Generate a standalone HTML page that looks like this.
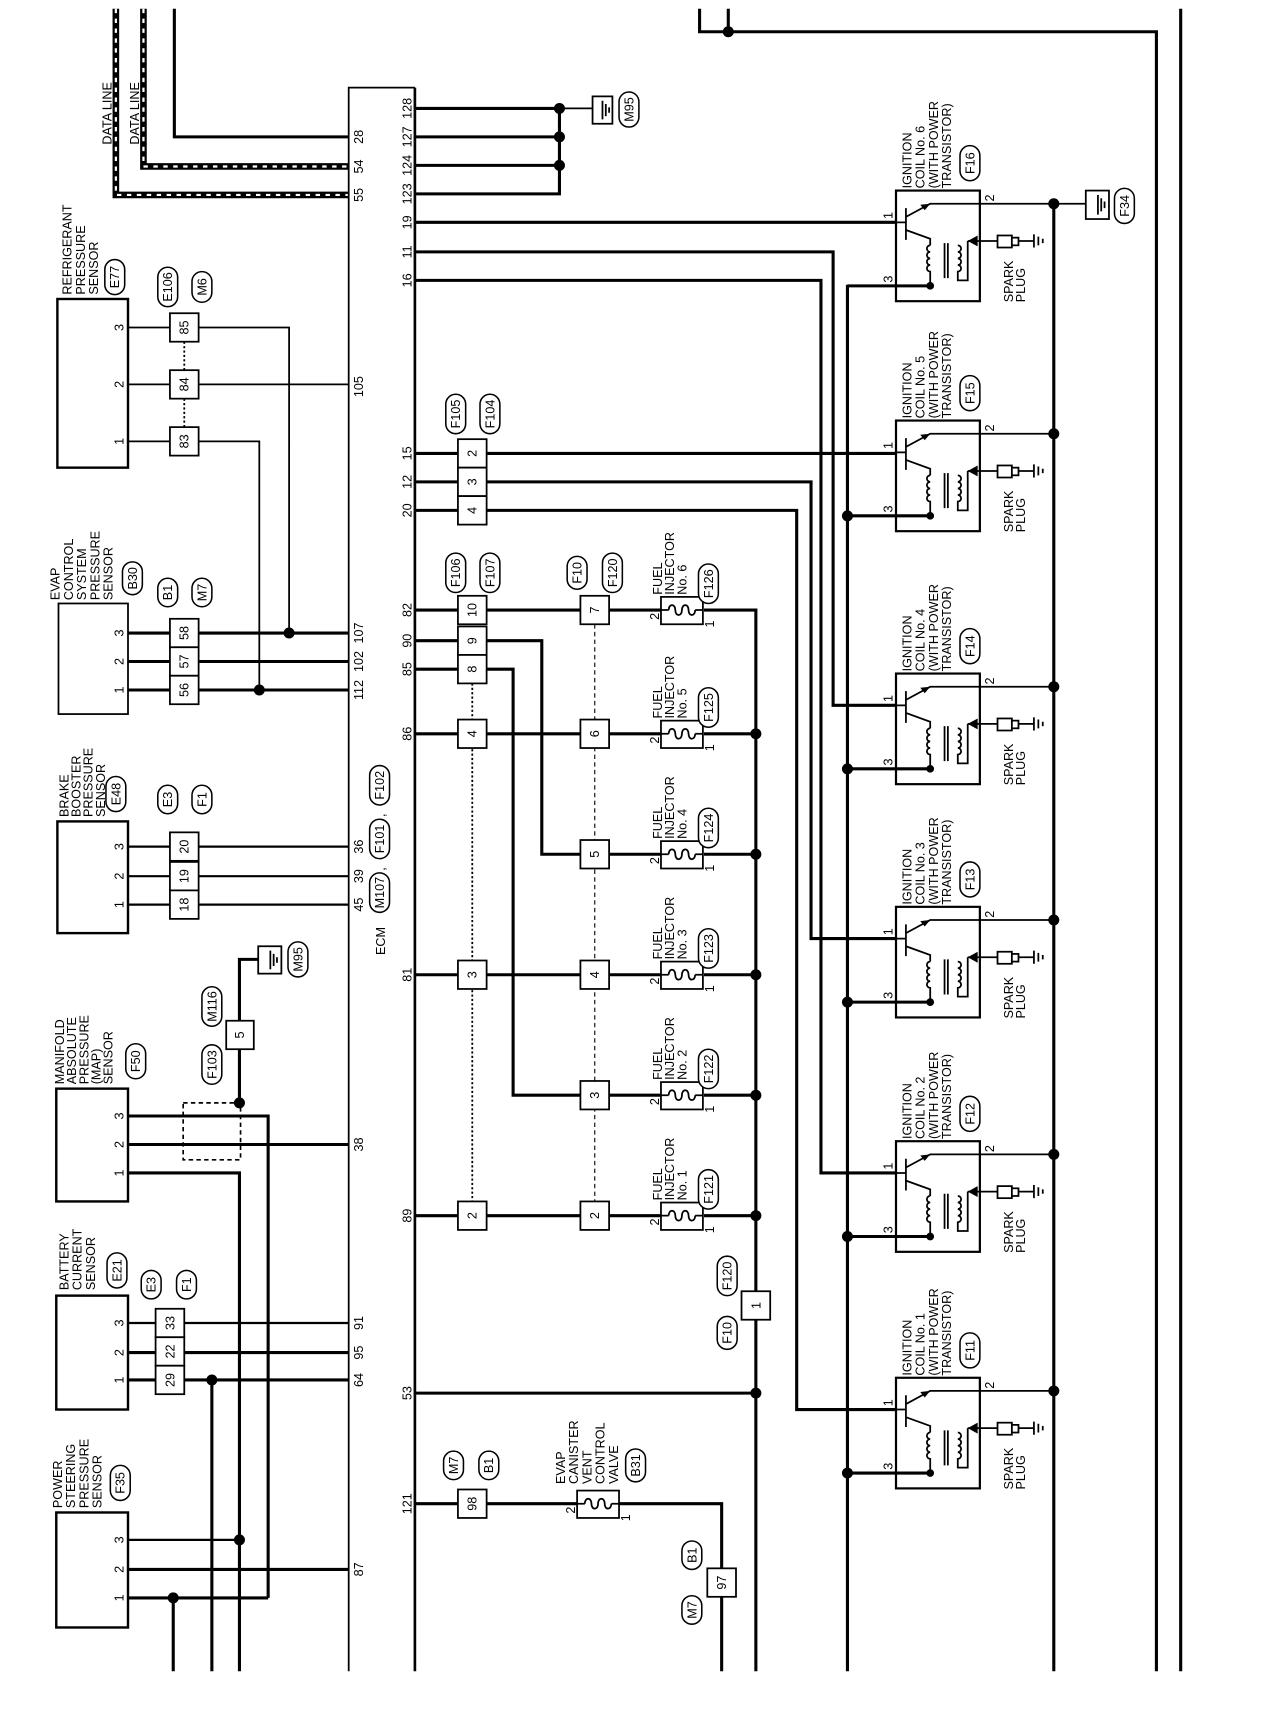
<!DOCTYPE html>
<html><head><meta charset="utf-8"><style>
html,body{margin:0;padding:0;background:#fff;}
svg{display:block;}
text{font-family:"Liberation Sans",sans-serif;font-size:11.5px;fill:#000;}
.t{fill:none;stroke:#000;stroke-width:1.6;}
.k{fill:none;stroke:#000;stroke-width:2.8;}
.b{fill:#fff;stroke:#000;stroke-width:1.6;}
.o{fill:#fff;stroke:#000;stroke-width:1.4;}
</style></head><body>
<svg width="1280" height="1714" viewBox="0 0 1160 1565" preserveAspectRatio="none" xmlns="http://www.w3.org/2000/svg">
<defs>
<g id="coil">
<rect x="812" y="0" width="76" height="101" class="b" style="stroke-width:2"/>
<path class="t" d="M812 29H821 M821 16V45 M821 24L843 12H888 M821 36L843 44V50"/>
<path d="M843 12l-9 1l4 5z" fill="#000"/>
<path class="t" d="M843 50a3 3 0 0 0 0 6a3 3 0 0 0 0 6a3 3 0 0 0 0 6a3 3 0 0 0 0 6V87 M856 48V80 M859 48V80 M868 50a3 3 0 0 1 0 6a3 3 0 0 1 0 6a3 3 0 0 1 0 6a3 3 0 0 1 0 6V82H877V46"/>
<path class="k" d="M768 87H843"/>
<circle cx="843" cy="87" r="3.5"/>
<path class="t" d="M877 46H904"/>
<path d="M877 46l9 -5v10z" fill="#000"/>
<rect x="904" y="41" width="13" height="11" class="b"/>
<rect x="917" y="43" width="6" height="7" class="b"/>
<path class="t" d="M923 46H937 M937 40V52 M941 42V50 M945 44V48"/>
<path class="t" d="M888 12H955"/>
<text transform="translate(809,26) rotate(-90)">1</text>
<text transform="translate(809,84) rotate(-90)">3</text>
<text transform="translate(901,10) rotate(-90)">2</text>
<text transform="translate(918,102) rotate(-90)">SPARK</text>
<text transform="translate(929,102) rotate(-90)">PLUG</text>
</g>
</defs>

<path class="k" d="M158 8V125H316"/>
<path d="M130 8V152H316 M105 8V178H316" fill="none" stroke="#000" stroke-width="6"/>
<path d="M130 8V152H316 M105 8V178H316" fill="none" stroke="#fff" stroke-width="2" stroke-dasharray="4 5"/>
<text transform="translate(101,132) rotate(-90)">DATA LINE</text>
<text transform="translate(126,132) rotate(-90)">DATA LINE</text>

<path class="t" d="M316 1526V80H376"/>
<path class="k" d="M376 80V1526" style="stroke-width:2.4"/>
<g text-anchor="middle">
<text transform="translate(329,125) rotate(-90)">28</text>
<text transform="translate(329,152) rotate(-90)">54</text>
<text transform="translate(329,178) rotate(-90)">55</text>
<text transform="translate(329,353) rotate(-90)">105</text>
<text transform="translate(329,578) rotate(-90)">107</text>
<text transform="translate(329,604) rotate(-90)">102</text>
<text transform="translate(329,630) rotate(-90)">112</text>
<text transform="translate(329,773) rotate(-90)">36</text>
<text transform="translate(329,800) rotate(-90)">39</text>
<text transform="translate(329,826) rotate(-90)">45</text>
<text transform="translate(329,1045) rotate(-90)">38</text>
<text transform="translate(329,1208) rotate(-90)">91</text>
<text transform="translate(329,1235) rotate(-90)">95</text>
<text transform="translate(329,1260) rotate(-90)">64</text>
<text transform="translate(329,1433) rotate(-90)">87</text>
<text transform="translate(373,99) rotate(-90)">128</text>
<text transform="translate(373,125) rotate(-90)">127</text>
<text transform="translate(373,151) rotate(-90)">124</text>
<text transform="translate(373,177) rotate(-90)">123</text>
<text transform="translate(373,203) rotate(-90)">19</text>
<text transform="translate(373,230) rotate(-90)">11</text>
<text transform="translate(373,256) rotate(-90)">16</text>
<text transform="translate(373,414) rotate(-90)">15</text>
<text transform="translate(373,440) rotate(-90)">12</text>
<text transform="translate(373,466) rotate(-90)">20</text>
<text transform="translate(373,557) rotate(-90)">82</text>
<text transform="translate(373,585) rotate(-90)">90</text>
<text transform="translate(373,611) rotate(-90)">85</text>
<text transform="translate(373,670) rotate(-90)">86</text>
<text transform="translate(373,890) rotate(-90)">81</text>
<text transform="translate(373,1110) rotate(-90)">89</text>
<text transform="translate(373,1272) rotate(-90)">53</text>
<text transform="translate(373,1373) rotate(-90)">121</text>
</g>
<text transform="translate(349,872) rotate(-90)">ECM</text>
<rect x="335" y="797" width="18" height="36" rx="9" class="o"/><text transform="translate(348,815) rotate(-90)" text-anchor="middle">M107</text>
<text transform="translate(349,795) rotate(-90)">,</text>
<rect x="335" y="748" width="18" height="36" rx="9" class="o"/><text transform="translate(348,766) rotate(-90)" text-anchor="middle">F101</text>
<text transform="translate(349,746) rotate(-90)">,</text>
<rect x="335" y="699" width="18" height="36" rx="9" class="o"/><text transform="translate(348,717) rotate(-90)" text-anchor="middle">F102</text>

<rect x="52" y="273" width="64" height="154" class="b" style="stroke-width:2.2"/>
<text transform="translate(65,269) rotate(-90)">REFRIGERANT</text>
<text transform="translate(77,269) rotate(-90)">PRESSURE</text>
<text transform="translate(89,269) rotate(-90)">SENSOR</text>
<rect x="95" y="237" width="18" height="32" rx="9" class="o"/><text transform="translate(108,253) rotate(-90)" text-anchor="middle">E77</text>
<rect x="143" y="244" width="18" height="36" rx="9" class="o"/><text transform="translate(156,262) rotate(-90)" text-anchor="middle">E106</text>
<rect x="174" y="248" width="18" height="28" rx="9" class="o"/><text transform="translate(187,262) rotate(-90)" text-anchor="middle">M6</text>
<path class="t" d="M116 299H154 M180 299H262V578 M116 351H154 M180 351H316 M116 403H154 M180 403H235V630"/>
<path class="t" d="M167 312V338 M167 364V390" stroke-dasharray="2 2"/>
<g text-anchor="middle">
<text transform="translate(112,299) rotate(-90)">3</text><text transform="translate(112,351) rotate(-90)">2</text><text transform="translate(112,403) rotate(-90)">1</text>
</g>
<rect x="154" y="286" width="26" height="26" class="b"/><text transform="translate(171,299) rotate(-90)" text-anchor="middle">85</text>
<rect x="154" y="338" width="26" height="26" class="b"/><text transform="translate(171,351) rotate(-90)" text-anchor="middle">84</text>
<rect x="154" y="390" width="26" height="26" class="b"/><text transform="translate(171,403) rotate(-90)" text-anchor="middle">83</text>

<rect x="53" y="551" width="63" height="101" class="b"/>
<text transform="translate(54,548) rotate(-90)">EVAP</text>
<text transform="translate(66,548) rotate(-90)">CONTROL</text>
<text transform="translate(78,548) rotate(-90)">SYSTEM</text>
<text transform="translate(90,548) rotate(-90)">PRESSURE</text>
<text transform="translate(102,548) rotate(-90)">SENSOR</text>
<rect x="111" y="513" width="18" height="30" rx="9" class="o"/><text transform="translate(124,528) rotate(-90)" text-anchor="middle">B30</text>
<rect x="143" y="528" width="18" height="26" rx="9" class="o"/><text transform="translate(156,541) rotate(-90)" text-anchor="middle">B1</text>
<rect x="174" y="528" width="18" height="26" rx="9" class="o"/><text transform="translate(187,541) rotate(-90)" text-anchor="middle">M7</text>
<path class="k" d="M116 578H316 M116 604H316 M116 630H316"/>
<circle cx="262" cy="578" r="5"/><circle cx="235" cy="630" r="5"/>
<g text-anchor="middle"><text transform="translate(112,578) rotate(-90)">3</text><text transform="translate(112,604) rotate(-90)">2</text><text transform="translate(112,630) rotate(-90)">1</text></g>
<rect x="154" y="565" width="26" height="26" class="b"/><text transform="translate(171,578) rotate(-90)" text-anchor="middle">58</text>
<rect x="154" y="591" width="26" height="26" class="b"/><text transform="translate(171,604) rotate(-90)" text-anchor="middle">57</text>
<rect x="154" y="617" width="26" height="26" class="b"/><text transform="translate(171,630) rotate(-90)" text-anchor="middle">56</text>

<rect x="52" y="750" width="64" height="102" class="b" style="stroke-width:2.2"/>
<text transform="translate(62,746) rotate(-90)">BRAKE</text>
<text transform="translate(73,746) rotate(-90)">BOOSTER</text>
<text transform="translate(84,746) rotate(-90)">PRESSURE</text>
<text transform="translate(95,746) rotate(-90)">SENSOR</text>
<rect x="96" y="709" width="18" height="32" rx="9" class="o"/><text transform="translate(109,725) rotate(-90)" text-anchor="middle">E48</text>
<rect x="143" y="717" width="18" height="26" rx="9" class="o"/><text transform="translate(156,730) rotate(-90)" text-anchor="middle">E3</text>
<rect x="174" y="717" width="18" height="26" rx="9" class="o"/><text transform="translate(187,730) rotate(-90)" text-anchor="middle">F1</text>
<path class="t" d="M116 773H316 M116 800H316 M116 826H316" style="stroke-width:2"/>
<g text-anchor="middle"><text transform="translate(112,773) rotate(-90)">3</text><text transform="translate(112,800) rotate(-90)">2</text><text transform="translate(112,826) rotate(-90)">1</text></g>
<rect x="154" y="760" width="26" height="26" class="b"/><text transform="translate(171,773) rotate(-90)" text-anchor="middle">20</text>
<rect x="154" y="787" width="26" height="26" class="b"/><text transform="translate(171,800) rotate(-90)" text-anchor="middle">19</text>
<rect x="154" y="813" width="26" height="26" class="b"/><text transform="translate(171,826) rotate(-90)" text-anchor="middle">18</text>

<rect x="51" y="994" width="65" height="103" class="b" style="stroke-width:2.2"/>
<text transform="translate(58,990) rotate(-90)">MANIFOLD</text>
<text transform="translate(69,990) rotate(-90)">ABSOLUTE</text>
<text transform="translate(80,990) rotate(-90)">PRESSURE</text>
<text transform="translate(91,990) rotate(-90)">(MAP)</text>
<text transform="translate(102,990) rotate(-90)">SENSOR</text>
<rect x="114" y="953" width="18" height="32" rx="9" class="o"/><text transform="translate(127,969) rotate(-90)" text-anchor="middle">F50</text>
<rect x="183" y="954" width="18" height="36" rx="9" class="o"/><text transform="translate(196,972) rotate(-90)" text-anchor="middle">F103</text>
<rect x="183" y="901" width="18" height="36" rx="9" class="o"/><text transform="translate(196,919) rotate(-90)" text-anchor="middle">M116</text>
<rect x="261" y="860" width="18" height="32" rx="9" class="o"/><text transform="translate(274,876) rotate(-90)" text-anchor="middle">M95</text>
<rect x="166" y="1007" width="52" height="52" fill="none" stroke="#000" stroke-width="1.5" stroke-dasharray="4 3"/>
<path class="k" d="M116 1019H243V1459 M116 1045H316 M116 1071H217V1526 M217 1007V876H236"/>
<circle cx="217" cy="1007" r="5"/>
<rect x="205" y="932" width="25" height="26" class="b"/><text transform="translate(221,945) rotate(-90)" text-anchor="middle">5</text>
<rect x="234" y="864" width="21" height="25" class="b"/>
<path class="t" d="M245 868V885 M248 871V882 M251 874V879"/>
<g text-anchor="middle"><text transform="translate(112,1019) rotate(-90)">3</text><text transform="translate(112,1045) rotate(-90)">2</text><text transform="translate(112,1071) rotate(-90)">1</text></g>

<rect x="51" y="1183" width="65" height="104" class="b" style="stroke-width:2.2"/>
<text transform="translate(62,1178) rotate(-90)">BATTERY</text>
<text transform="translate(74,1178) rotate(-90)">CURRENT</text>
<text transform="translate(86,1178) rotate(-90)">SENSOR</text>
<rect x="97" y="1144" width="18" height="32" rx="9" class="o"/><text transform="translate(110,1160) rotate(-90)" text-anchor="middle">E21</text>
<rect x="128" y="1160" width="18" height="26" rx="9" class="o"/><text transform="translate(141,1173) rotate(-90)" text-anchor="middle">E3</text>
<rect x="160" y="1160" width="18" height="26" rx="9" class="o"/><text transform="translate(173,1173) rotate(-90)" text-anchor="middle">F1</text>
<path class="t" d="M116 1208H316" style="stroke-width:2"/>
<path class="k" d="M116 1235H316 M116 1260H316 M192 1260V1526"/>
<circle cx="192" cy="1260" r="5"/>
<g text-anchor="middle"><text transform="translate(112,1208) rotate(-90)">3</text><text transform="translate(112,1235) rotate(-90)">2</text><text transform="translate(112,1260) rotate(-90)">1</text></g>
<rect x="141" y="1195" width="26" height="26" class="b"/><text transform="translate(158,1208) rotate(-90)" text-anchor="middle">33</text>
<rect x="141" y="1221" width="26" height="26" class="b"/><text transform="translate(158,1234) rotate(-90)" text-anchor="middle">22</text>
<rect x="141" y="1247" width="26" height="26" class="b"/><text transform="translate(158,1260) rotate(-90)" text-anchor="middle">29</text>

<rect x="51" y="1381" width="65" height="105" class="b" style="stroke-width:2.2"/>
<text transform="translate(56,1377) rotate(-90)">POWER</text>
<text transform="translate(68,1377) rotate(-90)">STEERING</text>
<text transform="translate(80,1377) rotate(-90)">PRESSURE</text>
<text transform="translate(92,1377) rotate(-90)">SENSOR</text>
<rect x="100" y="1338" width="18" height="32" rx="9" class="o"/><text transform="translate(113,1354) rotate(-90)" text-anchor="middle">F35</text>
<path class="t" d="M116 1406H217" style="stroke-width:2"/>
<path class="k" d="M116 1433H316 M116 1459H243 M157 1459V1526"/>
<circle cx="217" cy="1406" r="5"/><circle cx="157" cy="1459" r="5"/>
<g text-anchor="middle"><text transform="translate(112,1406) rotate(-90)">3</text><text transform="translate(112,1433) rotate(-90)">2</text><text transform="translate(112,1459) rotate(-90)">1</text></g>

<path class="k" d="M376 99H507 M376 125H507 M376 151H507 M376 177H507V99"/>
<circle cx="507" cy="99" r="5"/><circle cx="507" cy="125" r="5"/><circle cx="507" cy="151" r="5"/>
<path class="t" d="M507 99H537"/>
<rect x="537" y="88" width="18" height="25" class="b"/>
<path class="t" d="M546 92V109 M549 95V106 M552 98V103"/>
<rect x="561" y="84" width="18" height="32" rx="9" class="o"/><text transform="translate(574,100) rotate(-90)" text-anchor="middle">M95</text>

<path class="k" d="M376 203H812 M376 230H755V644H812 M376 256H744V1071H812 M376 414H812 M376 440H735V857H812 M376 466H722V1287H812"/>
<rect x="415" y="401" width="26" height="26" class="b"/><text transform="translate(432,414) rotate(-90)" text-anchor="middle">2</text>
<rect x="415" y="427" width="26" height="26" class="b"/><text transform="translate(432,440) rotate(-90)" text-anchor="middle">3</text>
<rect x="415" y="453" width="26" height="26" class="b"/><text transform="translate(432,466) rotate(-90)" text-anchor="middle">4</text>
<rect x="404" y="360" width="18" height="36" rx="9" class="o"/><text transform="translate(417,378) rotate(-90)" text-anchor="middle">F105</text>
<rect x="435" y="360" width="18" height="36" rx="9" class="o"/><text transform="translate(448,378) rotate(-90)" text-anchor="middle">F104</text>

<path class="k" d="M768 260V1526 M955 186V1526"/>
<use href="#coil" transform="translate(0,174)"/>
<use href="#coil" transform="translate(0,384)"/>
<use href="#coil" transform="translate(0,615)"/>
<use href="#coil" transform="translate(0,828)"/>
<use href="#coil" transform="translate(0,1042)"/>
<use href="#coil" transform="translate(0,1258)"/>
<g>
<circle cx="768" cy="471" r="5"/><circle cx="768" cy="702" r="5"/><circle cx="768" cy="915" r="5"/><circle cx="768" cy="1129" r="5"/><circle cx="768" cy="1345" r="5"/>
<circle cx="955" cy="186" r="5"/><circle cx="955" cy="396" r="5"/><circle cx="955" cy="627" r="5"/><circle cx="955" cy="840" r="5"/><circle cx="955" cy="1054" r="5"/><circle cx="955" cy="1270" r="5"/>
</g>
<path class="t" d="M955 186H984"/>
<rect x="984" y="174" width="21" height="26" class="b"/>
<path class="t" d="M995 178V196 M998 181V193 M1001 184V190"/>
<rect x="1010" y="172" width="18" height="32" rx="9" class="o"/><text transform="translate(1023,188) rotate(-90)" text-anchor="middle">F34</text>

<text transform="translate(826,172) rotate(-90)">IGNITION</text><text transform="translate(838,172) rotate(-90)">COIL No. 6</text><text transform="translate(850,172) rotate(-90)">(WITH POWER</text><text transform="translate(862,172) rotate(-90)">TRANSISTOR)</text>
<rect x="870" y="133" width="18" height="32" rx="9" class="o"/><text transform="translate(883,149) rotate(-90)" text-anchor="middle">F16</text>
<text transform="translate(826,382) rotate(-90)">IGNITION</text><text transform="translate(838,382) rotate(-90)">COIL No. 5</text><text transform="translate(850,382) rotate(-90)">(WITH POWER</text><text transform="translate(862,382) rotate(-90)">TRANSISTOR)</text>
<rect x="870" y="343" width="18" height="32" rx="9" class="o"/><text transform="translate(883,359) rotate(-90)" text-anchor="middle">F15</text>
<text transform="translate(826,613) rotate(-90)">IGNITION</text><text transform="translate(838,613) rotate(-90)">COIL No. 4</text><text transform="translate(850,613) rotate(-90)">(WITH POWER</text><text transform="translate(862,613) rotate(-90)">TRANSISTOR)</text>
<rect x="870" y="574" width="18" height="32" rx="9" class="o"/><text transform="translate(883,590) rotate(-90)" text-anchor="middle">F14</text>
<text transform="translate(826,826) rotate(-90)">IGNITION</text><text transform="translate(838,826) rotate(-90)">COIL No. 3</text><text transform="translate(850,826) rotate(-90)">(WITH POWER</text><text transform="translate(862,826) rotate(-90)">TRANSISTOR)</text>
<rect x="870" y="787" width="18" height="32" rx="9" class="o"/><text transform="translate(883,803) rotate(-90)" text-anchor="middle">F13</text>
<text transform="translate(826,1040) rotate(-90)">IGNITION</text><text transform="translate(838,1040) rotate(-90)">COIL No. 2</text><text transform="translate(850,1040) rotate(-90)">(WITH POWER</text><text transform="translate(862,1040) rotate(-90)">TRANSISTOR)</text>
<rect x="870" y="1001" width="18" height="32" rx="9" class="o"/><text transform="translate(883,1017) rotate(-90)" text-anchor="middle">F12</text>
<text transform="translate(826,1256) rotate(-90)">IGNITION</text><text transform="translate(838,1256) rotate(-90)">COIL No. 1</text><text transform="translate(850,1256) rotate(-90)">(WITH POWER</text><text transform="translate(862,1256) rotate(-90)">TRANSISTOR)</text>
<rect x="870" y="1217" width="18" height="32" rx="9" class="o"/><text transform="translate(883,1233) rotate(-90)" text-anchor="middle">F11</text>

<path class="k" d="M634 8V29H1048V1526 M660 8V29 M1070 8V1526"/>
<circle cx="660" cy="29" r="5"/>

<path class="t" d="M428 624V1097" stroke-width="3" stroke-dasharray="2 2"/>
<path class="t" d="M539 570V1097" style="stroke-width:1" stroke-dasharray="4 3"/>
<path class="k" d="M376 557H599 M638 557H685V1526 M376 585H491V780H599 M376 611H465V1000H599 M376 670H599 M376 890H599 M376 1110H599 M638 670H685 M638 780H685 M638 890H685 M638 1000H685 M638 1110H685 M376 1272H685"/>
<g>
<circle cx="685" cy="670" r="5"/><circle cx="685" cy="780" r="5"/><circle cx="685" cy="890" r="5"/><circle cx="685" cy="1000" r="5"/><circle cx="685" cy="1110" r="5"/><circle cx="685" cy="1272" r="5"/>
</g>
<rect x="415" y="544" width="26" height="26" class="b"/><text transform="translate(432,557) rotate(-90)" text-anchor="middle">10</text>
<rect x="415" y="572" width="26" height="26" class="b"/><text transform="translate(432,585) rotate(-90)" text-anchor="middle">9</text>
<rect x="415" y="598" width="26" height="26" class="b"/><text transform="translate(432,611) rotate(-90)" text-anchor="middle">8</text>
<rect x="415" y="657" width="26" height="26" class="b"/><text transform="translate(432,670) rotate(-90)" text-anchor="middle">4</text>
<rect x="415" y="877" width="26" height="26" class="b"/><text transform="translate(432,890) rotate(-90)" text-anchor="middle">3</text>
<rect x="415" y="1097" width="26" height="26" class="b"/><text transform="translate(432,1110) rotate(-90)" text-anchor="middle">2</text>
<rect x="404" y="505" width="18" height="36" rx="9" class="o"/><text transform="translate(417,523) rotate(-90)" text-anchor="middle">F106</text>
<rect x="435" y="505" width="18" height="36" rx="9" class="o"/><text transform="translate(448,523) rotate(-90)" text-anchor="middle">F107</text>
<rect x="526" y="544" width="26" height="26" class="b"/><text transform="translate(543,557) rotate(-90)" text-anchor="middle">7</text>
<rect x="526" y="657" width="26" height="26" class="b"/><text transform="translate(543,670) rotate(-90)" text-anchor="middle">6</text>
<rect x="526" y="767" width="26" height="26" class="b"/><text transform="translate(543,780) rotate(-90)" text-anchor="middle">5</text>
<rect x="526" y="877" width="26" height="26" class="b"/><text transform="translate(543,890) rotate(-90)" text-anchor="middle">4</text>
<rect x="526" y="987" width="26" height="26" class="b"/><text transform="translate(543,1000) rotate(-90)" text-anchor="middle">3</text>
<rect x="526" y="1097" width="26" height="26" class="b"/><text transform="translate(543,1110) rotate(-90)" text-anchor="middle">2</text>
<rect x="514" y="508" width="18" height="30" rx="9" class="o"/><text transform="translate(527,523) rotate(-90)" text-anchor="middle">F10</text>
<rect x="546" y="505" width="18" height="36" rx="9" class="o"/><text transform="translate(559,523) rotate(-90)" text-anchor="middle">F120</text>

<g id="inj">
<rect x="599" y="545" width="38" height="25" class="b"/>
<path class="t" d="M599 557H606 M630 557H637 M606 557c0-6 6-6 6 0c0 6 6 6 6 0c0-6 6-6 6 0c0 6 6 6 6 0"/>
<text transform="translate(597,566) rotate(-90)">2</text>
<text transform="translate(647,573) rotate(-90)">1</text>
</g>
<use href="#inj" transform="translate(0,113)"/>
<use href="#inj" transform="translate(0,223)"/>
<use href="#inj" transform="translate(0,333)"/>
<use href="#inj" transform="translate(0,443)"/>
<use href="#inj" transform="translate(0,553)"/>
<g>
<text transform="translate(600,543) rotate(-90)">FUEL</text><text transform="translate(611,543) rotate(-90)">INJECTOR</text><text transform="translate(622,543) rotate(-90)">No. 6</text>
<rect x="633" y="515" width="18" height="36" rx="9" class="o"/><text transform="translate(646,533) rotate(-90)" text-anchor="middle">F126</text>
<text transform="translate(600,656) rotate(-90)">FUEL</text><text transform="translate(611,656) rotate(-90)">INJECTOR</text><text transform="translate(622,656) rotate(-90)">No. 5</text>
<rect x="633" y="628" width="18" height="36" rx="9" class="o"/><text transform="translate(646,646) rotate(-90)" text-anchor="middle">F125</text>
<text transform="translate(600,766) rotate(-90)">FUEL</text><text transform="translate(611,766) rotate(-90)">INJECTOR</text><text transform="translate(622,766) rotate(-90)">No. 4</text>
<rect x="633" y="738" width="18" height="36" rx="9" class="o"/><text transform="translate(646,756) rotate(-90)" text-anchor="middle">F124</text>
<text transform="translate(600,876) rotate(-90)">FUEL</text><text transform="translate(611,876) rotate(-90)">INJECTOR</text><text transform="translate(622,876) rotate(-90)">No. 3</text>
<rect x="633" y="848" width="18" height="36" rx="9" class="o"/><text transform="translate(646,866) rotate(-90)" text-anchor="middle">F123</text>
<text transform="translate(600,986) rotate(-90)">FUEL</text><text transform="translate(611,986) rotate(-90)">INJECTOR</text><text transform="translate(622,986) rotate(-90)">No. 2</text>
<rect x="633" y="958" width="18" height="36" rx="9" class="o"/><text transform="translate(646,976) rotate(-90)" text-anchor="middle">F122</text>
<text transform="translate(600,1096) rotate(-90)">FUEL</text><text transform="translate(611,1096) rotate(-90)">INJECTOR</text><text transform="translate(622,1096) rotate(-90)">No. 1</text>
<rect x="633" y="1068" width="18" height="36" rx="9" class="o"/><text transform="translate(646,1086) rotate(-90)" text-anchor="middle">F121</text>
</g>
<rect x="672" y="1179" width="26" height="26" class="b"/><text transform="translate(689,1192) rotate(-90)" text-anchor="middle">1</text>
<rect x="650" y="1147" width="18" height="36" rx="9" class="o"/><text transform="translate(663,1165) rotate(-90)" text-anchor="middle">F120</text>
<rect x="650" y="1202" width="18" height="30" rx="9" class="o"/><text transform="translate(663,1217) rotate(-90)" text-anchor="middle">F10</text>

<path class="k" d="M376 1373H523 M561 1373H654V1526"/>
<rect x="415" y="1360" width="26" height="26" class="b"/><text transform="translate(432,1373) rotate(-90)" text-anchor="middle">98</text>
<rect x="523" y="1361" width="38" height="25" class="b"/>
<path class="t" d="M523 1373H530 M554 1373H561 M530 1373c0-6 6-6 6 0c0 6 6 6 6 0c0-6 6-6 6 0c0 6 6 6 6 0"/>
<text transform="translate(521,1382) rotate(-90)">2</text>
<text transform="translate(571,1389) rotate(-90)">1</text>
<text transform="translate(512,1355) rotate(-90)">EVAP</text>
<text transform="translate(524,1355) rotate(-90)">CANISTER</text>
<text transform="translate(536,1355) rotate(-90)">VENT</text>
<text transform="translate(548,1355) rotate(-90)">CONTROL</text>
<text transform="translate(560,1355) rotate(-90)">VALVE</text>
<rect x="567" y="1323" width="18" height="30" rx="9" class="o"/><text transform="translate(580,1338) rotate(-90)" text-anchor="middle">B31</text>
<rect x="402" y="1325" width="18" height="26" rx="9" class="o"/><text transform="translate(415,1338) rotate(-90)" text-anchor="middle">M7</text>
<rect x="434" y="1325" width="18" height="26" rx="9" class="o"/><text transform="translate(447,1338) rotate(-90)" text-anchor="middle">B1</text>
<rect x="641" y="1432" width="26" height="26" class="b"/><text transform="translate(658,1445) rotate(-90)" text-anchor="middle">97</text>
<rect x="618" y="1407" width="18" height="26" rx="9" class="o"/><text transform="translate(631,1420) rotate(-90)" text-anchor="middle">B1</text>
<rect x="618" y="1457" width="18" height="26" rx="9" class="o"/><text transform="translate(631,1470) rotate(-90)" text-anchor="middle">M7</text>
</svg>
</body></html>
